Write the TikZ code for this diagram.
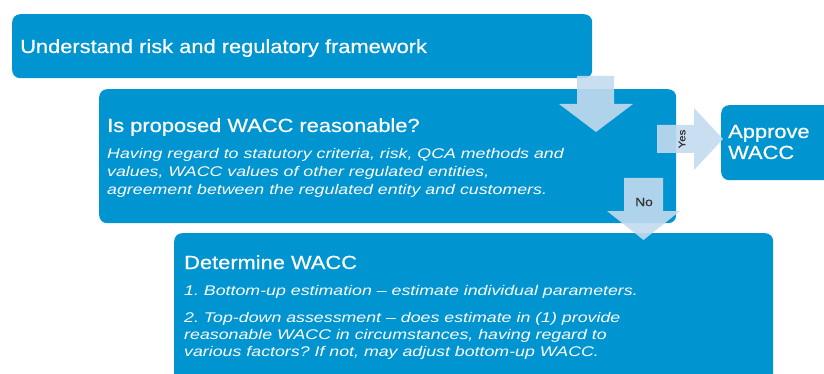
\documentclass[tikz,border=0pt]{standalone}
\usepackage{fontspec}
\setmainfont{Liberation Sans}[FakeStretch=1.15, FakeBold=0.5]
\newfontfamily\notefont{Liberation Sans}[FakeStretch=1.27]
\usetikzlibrary{positioning}
\definecolor{boxblue}{RGB}{0,148,208}
\definecolor{arrowblue}{RGB}{196,218,240}
\frenchspacing
\tikzset{
x=1pt, y=-1pt, % work in pixels of the page, y going down
box/.style={fill=boxblue, rounded corners=8pt, anchor=north west, inner sep=0pt}, % blue step boxes
headline/.style={text=white, anchor=base west, inner sep=0pt, font=\fontsize{19}{22}\selectfont}, % titles in the boxes
note/.style={text=white, anchor=base west, inner sep=0pt, align=left, font=\notefont\itshape\fontsize{14}{18}\selectfont}, % italic notes (anchored on their last line)
blockarrow/.style={fill=arrowblue, fill opacity=0.9}, % the fat arrows
}

\begin{document}
\begin{tikzpicture}
\useasboundingbox (0,0) rectangle (824,374);
% the steps
\node[box, minimum width=580pt, minimum height=64pt] (understand) at (12,14) {};
\node[box, minimum width=577pt, minimum height=134pt] (reasonable) at (99,89) {};
\node[box, minimum width=114pt, minimum height=75pt] (approve) at (721,105) {};
\node[box, minimum width=599pt, minimum height=160pt] (determine) at (174,233) {};
% texts
\node[headline] (understandtxt) at (20,53) {Understand risk and regulatory framework};
\node[headline] (reasonabletxt) at (107,132) {Is proposed WACC reasonable?};
\node[note] (reasonablenote) at (107,195) {Having regard to statutory criteria, risk, QCA methods and\\values, WACC values of other regulated entities,\\agreement between the regulated entity and customers.};
\node[headline, align=left, font=\fontsize{19}{21}\selectfont] (approvetxt) at (728,159) {Approve\\WACC};
\node[headline] (determinetxt) at (184,269) {Determine WACC};
\node[note] (stepone) at (184,295) {1. Bottom-up estimation – estimate individual parameters.};
\node[note, font=\notefont\itshape\fontsize{14}{17}\selectfont] (steptwo) at (184,356) {2. Top-down assessment – does estimate in (1) provide\\reasonable WACC in circumstances, having regard to\\various factors? If not, may adjust bottom-up WACC.};
% arrows between the steps
\fill[blockarrow] (577,76) -- (614,76) -- (614,104) -- (633,104) -- (596,132) -- (559,104) -- (577,104) -- cycle;
\fill[blockarrow] (657,125) -- (694,125) -- (694,108) -- (723,139) -- (694,170) -- (694,153) -- (657,153) -- cycle;
\fill[blockarrow] (624,178) -- (663,178) -- (663,211) -- (680,211) -- (643.5,240) -- (607,211) -- (624,211) -- cycle;
\node[rotate=90, inner sep=0pt, text=black!80, font=\fontsize{10}{12}\selectfont] (yes) at (682,139) {Yes};
\node[inner sep=0pt, text=black!80, font=\fontsize{12}{14}\selectfont] (no) at (644,202) {No};
\end{tikzpicture}
\end{document}
